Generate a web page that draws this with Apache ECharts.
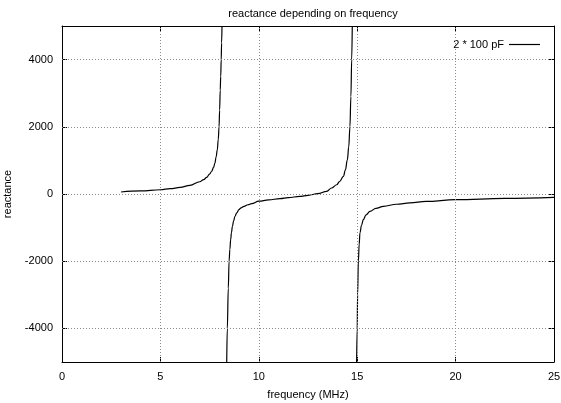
<!DOCTYPE html>
<html>
<head>
<meta charset="utf-8">
<script src="https://cdn.jsdelivr.net/npm/echarts@6/dist/echarts.min.js"></script>
<style>
  html, body { margin: 0; padding: 0; background: #fff; }
  #chart { width: 561px; height: 403px; }
</style>
</head>
<body>
<div id="chart"></div>
<script>
// Reactance of the 2 * 100 pF network, one array pair per branch between the poles
const branch1Freq = [3.0, 4.0, 5.0, 5.5, 6.0, 6.5, 7.0, 7.2, 7.35, 7.5, 7.6, 7.7, 7.77, 7.83, 7.89, 7.94, 7.98, 8.01, 8.04, 8.065, 8.09, 8.11, 8.13];
const branch1React = [60, 92, 127, 158, 196, 256, 364, 430, 493, 590, 670, 790, 918, 1100, 1312, 1620, 2000, 2500, 3090, 3500, 4000, 4500, 5000];

const branch2Freq = [8.37, 8.40, 8.45, 8.49, 8.53, 8.57, 8.61, 8.66, 8.72, 8.79, 8.88, 8.99, 9.1, 9.25, 9.45, 9.64, 10.0, 10.5, 11.08, 11.5, 12.09, 12.5, 13.0, 13.45, 13.7, 13.96, 14.1, 14.3, 14.4, 14.5, 14.57, 14.63, 14.68, 14.72, 14.75];
const branch2React = [-5000, -4000, -2800, -2000, -1650, -1360, -1150, -962, -800, -662, -560, -465, -410, -366, -320, -287, -215, -175, -139, -110, -70, -38, 10, 79, 178, 276, 370, 523, 720, 1016, 1400, 2000, 2900, 4000, 5000];

const branch3Freq = [14.97, 15.0, 15.02, 15.06, 15.1, 15.14, 15.22, 15.31, 15.45, 15.65, 15.95, 16.33, 17.0, 17.68, 18.5, 20.0, 22.5, 25.0];
const branch3React = [-5000, -4000, -3000, -2000, -1500, -1156, -930, -763, -620, -516, -430, -367, -305, -267, -220, -170, -130, -100];

const xTicks = [0, 5, 10, 15, 20, 25];
const yTicks = [-4000, -2000, 0, 2000, 4000];
const xGridValues = [5, 10, 15, 20];

const seriesName = '2 * 100 pF';

// Join the branches, with a gap at each pole
function pairs(fs, xs) { return fs.map((f, i) => [f, xs[i]]); }
const curve = [].concat(
  pairs(branch1Freq, branch1React), [[null, null]],
  pairs(branch2Freq, branch2React), [[null, null]],
  pairs(branch3Freq, branch3React)
);

const FONT = 'Liberation Sans, Arial, sans-serif';
const gridLine = { color: '#8a8a8a', width: 1, type: [1, 2] };

const chart = echarts.init(document.getElementById('chart'), null, { renderer: 'canvas' });
chart.setOption({
  animation: false,
  backgroundColor: '#fff',
  textStyle: { fontFamily: FONT },
  title: {
    text: 'reactance depending on frequency',
    left: 308, top: 3, textAlign: 'center',
    textStyle: { fontFamily: FONT, fontSize: 11, fontWeight: 'normal', color: '#000' }
  },
  legend: {
    right: 16, top: 34,
    align: 'right',
    itemWidth: 31, itemHeight: 1.2, itemGap: 6,
    textStyle: { fontFamily: FONT, fontSize: 11, color: '#000' },
    data: [{ name: seriesName, icon: 'rect' }]
  },
  grid: { left: 62, right: 7, top: 26, bottom: 41, containLabel: false, outerBoundsMode: 'none' },
  xAxis: [
    {
      type: 'value', min: 0, max: 25, interval: 5,
      name: 'frequency (MHz)', nameLocation: 'middle', nameGap: 27,
      nameTextStyle: { fontFamily: FONT, fontSize: 11, color: '#000' },
      axisLine: { show: true, onZero: false, lineStyle: { color: '#000', width: 1 } },
      axisTick: { show: true, inside: true, length: 5, lineStyle: { color: '#000' } },
      axisLabel: { show: true, margin: 9, fontFamily: FONT, fontSize: 11, color: '#000' },
      splitLine: { show: false }
    },
    {
      type: 'value', min: 0, max: 25, interval: 5, position: 'top',
      axisLine: { show: true, onZero: false, lineStyle: { color: '#000', width: 1 } },
      axisTick: { show: true, inside: true, length: 5, lineStyle: { color: '#000' } },
      axisLabel: { show: false },
      splitLine: { show: false }
    }
  ],
  yAxis: [
    {
      type: 'value', min: -5000, max: 5000, interval: 1000,
      name: 'reactance', nameLocation: 'middle', nameGap: 49, nameRotate: 90,
      nameTextStyle: { fontFamily: FONT, fontSize: 11, color: '#000' },
      axisLine: { show: true, onZero: false, lineStyle: { color: '#000', width: 1 } },
      axisTick: { show: true, inside: true, length: 5, customValues: yTicks, lineStyle: { color: '#000' } },
      axisLabel: {
        show: true, margin: 9, customValues: yTicks,
        formatter: v => String(v),
        fontFamily: FONT, fontSize: 11, color: '#000'
      },
      splitLine: { show: false }
    },
    {
      type: 'value', min: -5000, max: 5000, interval: 1000, position: 'right',
      axisLine: { show: true, onZero: false, lineStyle: { color: '#000', width: 1 } },
      axisTick: { show: true, inside: true, length: 5, customValues: yTicks, lineStyle: { color: '#000' } },
      axisLabel: { show: false },
      splitLine: { show: false }
    }
  ],
  series: [
    {
      // dotted grid drawn as reference lines under the curve
      type: 'line', data: [], silent: true, z: 1,
      markLine: {
        silent: true, symbol: 'none', animation: false,
        label: { show: false },
        lineStyle: gridLine,
        data: xGridValues.map(v => ({ xAxis: v })).concat(yTicks.map(v => ({ yAxis: v })))
      }
    },
    {
      name: seriesName,
      type: 'line',
      data: curve,
      showSymbol: false, symbol: 'none',
      connectNulls: false,
      smooth: 0.4, smoothMonotone: 'x',
      clip: true,
      z: 3,
      lineStyle: { color: '#000', width: 1.2 },
      itemStyle: { color: '#000' }
    }
  ]
});
</script>
</body>
</html>
